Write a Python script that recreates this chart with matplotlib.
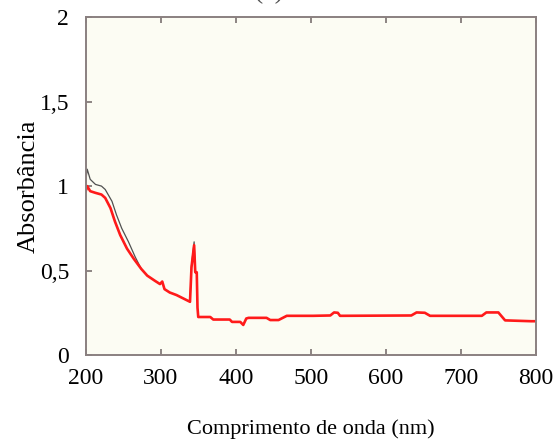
import matplotlib.pyplot as plt

plt.rcParams['font.family'] = ['Liberation Serif', 'DejaVu Serif']

# amostra (vermelho)
wl_red = [200, 202, 206, 213, 221, 226, 233, 239, 246, 255, 264, 274, 282,
          292, 299, 302, 305, 312, 321, 330, 339, 341, 344.5, 346, 348, 349,
          350, 366, 370, 392, 395, 406, 410, 414, 417, 441, 446, 457, 468,
          503, 526, 531, 536, 539, 634, 641, 652, 659, 728, 734, 750, 759,
          794, 800]
abs_red = [0.97, 1.00, 0.97, 0.96, 0.95, 0.93, 0.87, 0.79, 0.71, 0.63, 0.57,
           0.51, 0.47, 0.44, 0.42, 0.435, 0.39, 0.37, 0.355, 0.335, 0.315,
           0.52, 0.65, 0.49, 0.49, 0.28, 0.225, 0.225, 0.21, 0.21, 0.196,
           0.196, 0.178, 0.216, 0.22, 0.22, 0.207, 0.207, 0.232, 0.232, 0.234,
           0.252, 0.25, 0.232, 0.234, 0.252, 0.25, 0.232, 0.232, 0.252, 0.252,
           0.205, 0.2, 0.2]

# referência (preto), visível só no início e no pico
wl_blk_a = [200, 202, 206, 213, 221, 226, 235, 241, 248, 257, 266, 274]
abs_blk_a = [1.03, 1.10, 1.04, 1.01, 1.00, 0.98, 0.91, 0.83, 0.75, 0.67,
             0.58, 0.51]
wl_blk_b = [339, 341, 344.5, 346]
abs_blk_b = [0.315, 0.53, 0.67, 0.50]

xticks = [200, 300, 400, 500, 600, 700, 800]
yticks = [0, 0.5, 1, 1.5, 2]
ylabels = ['0', '0,5', '1', '1,5', '2']

fig = plt.figure(figsize=(5.53, 4.41), dpi=100)
ax = fig.add_axes([0.155, 0.195, 0.814, 0.766])
ax.set_facecolor('#fcfcf3')

ax.plot(wl_blk_a, abs_blk_a, color='#505050', lw=0.9)
ax.plot(wl_blk_b, abs_blk_b, color='#505050', lw=0.9)
ax.plot(wl_red, abs_red, color='#ff1a1a', lw=1.9)

ax.set_xlim(200, 800)
ax.set_ylim(0, 2)
ax.set_xticks(xticks)
ax.set_yticks(yticks)
ax.set_yticklabels(ylabels)
for s in ax.spines.values():
    s.set_color('#8a8080')
    s.set_linewidth(1.4)
ax.tick_params(direction='in', length=4, width=1.2, color='#7a7070',
               labelsize=17, top=True)
ax.tick_params(axis='x', pad=9)
ax.tick_params(axis='y', pad=12)

ax.set_xlabel('Comprimento de onda (nm)', fontsize=16, labelpad=22)
ax.set_ylabel('Absorbância', fontsize=19, labelpad=0)

fig.text(0.487, 1.0 + 2 / 441, '(a)', ha='center', va='baseline',
         fontsize=20, color='#555555')

fig.savefig('out.png', dpi=100)
